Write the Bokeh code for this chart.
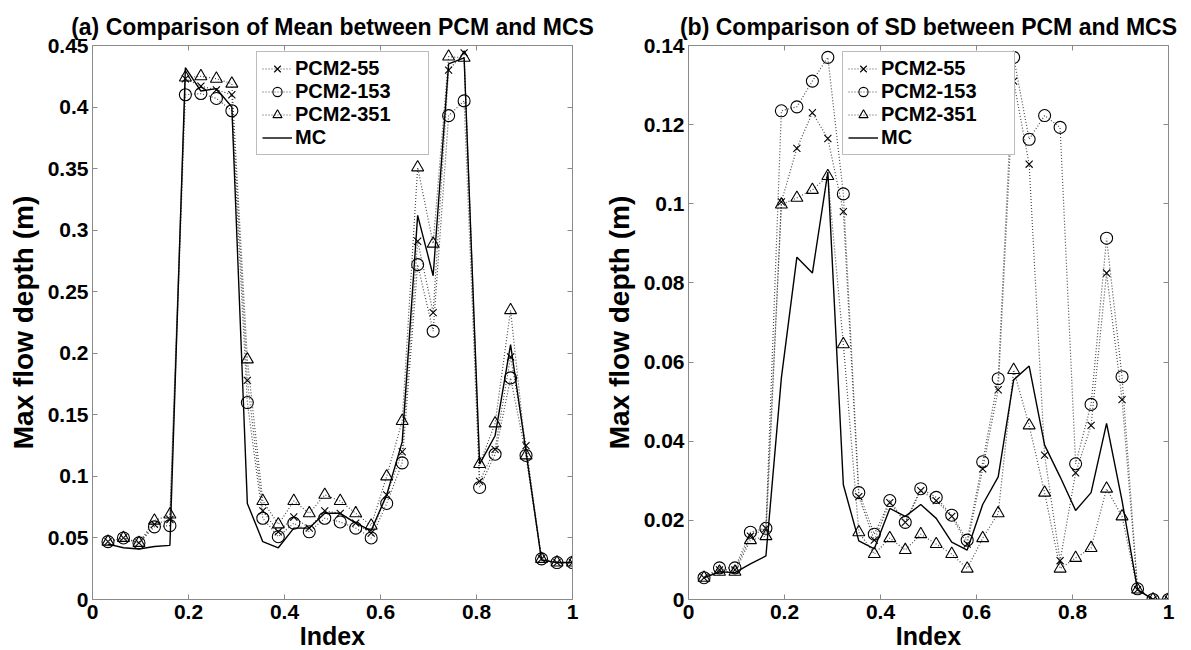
from bokeh.plotting import figure
from bokeh.models import LinearAxis, FixedTicker, Legend, LegendItem, Range1d
from bokeh.layouts import row
from bokeh.embed import file_html
from bokeh.resources import INLINE

# ---------------- data ----------------
index = [0.0323, 0.0645, 0.0968, 0.1290, 0.1613, 0.1935, 0.2258, 0.2581, 0.2903, 0.3226,
         0.3548, 0.3871, 0.4194, 0.4516, 0.4839, 0.5161, 0.5484, 0.5806, 0.6129, 0.6452,
         0.6774, 0.7097, 0.7419, 0.7742, 0.8065, 0.8387, 0.8710, 0.9032, 0.9355, 0.9677, 1.0]

mean_pcm55 = [0.047, 0.050, 0.046, 0.061, 0.065, 0.423, 0.417, 0.414, 0.410, 0.178,
              0.072, 0.055, 0.067, 0.058, 0.072, 0.070, 0.062, 0.054, 0.085, 0.120,
              0.291, 0.233, 0.430, 0.444, 0.096, 0.122, 0.197, 0.125, 0.033, 0.030, 0.030]
mean_pcm153 = [0.047, 0.050, 0.046, 0.059, 0.060, 0.410, 0.411, 0.407, 0.397, 0.160,
               0.066, 0.051, 0.062, 0.055, 0.066, 0.063, 0.058, 0.050, 0.078, 0.111,
               0.272, 0.218, 0.393, 0.405, 0.091, 0.118, 0.180, 0.117, 0.033, 0.030, 0.030]
mean_pcm351 = [0.047, 0.050, 0.046, 0.064, 0.069, 0.424, 0.425, 0.423, 0.419, 0.195,
               0.080, 0.061, 0.080, 0.070, 0.085, 0.080, 0.070, 0.060, 0.100, 0.145,
               0.351, 0.289, 0.441, 0.440, 0.110, 0.143, 0.235, 0.117, 0.033, 0.030, 0.030]
mean_mc = [0.045, 0.042, 0.041, 0.043, 0.044, 0.432, 0.413, 0.415, 0.400, 0.078,
           0.047, 0.042, 0.058, 0.058, 0.070, 0.070, 0.062, 0.056, 0.085, 0.128,
           0.312, 0.263, 0.435, 0.440, 0.110, 0.133, 0.207, 0.120, 0.032, 0.030, 0.030]

sd_pcm55 = [0.0055, 0.0075, 0.0075, 0.016, 0.018, 0.1005, 0.114, 0.123, 0.1165, 0.098,
            0.026, 0.015, 0.0245, 0.0195, 0.0275, 0.025, 0.021, 0.014, 0.033, 0.053,
            0.131, 0.110, 0.0365, 0.0098, 0.032, 0.044, 0.0825, 0.0505, 0.0025, 0.0, 0.0]
sd_pcm153 = [0.0055, 0.008, 0.008, 0.017, 0.018, 0.1235, 0.1245, 0.131, 0.137, 0.1025,
             0.027, 0.0165, 0.025, 0.0195, 0.028, 0.0258, 0.0213, 0.015, 0.0348, 0.0558,
             0.137, 0.1163, 0.1223, 0.1193, 0.0343, 0.0493, 0.0913, 0.0563, 0.0027, 0.0, 0.0]
sd_pcm351 = [0.0055, 0.007, 0.007, 0.015, 0.016, 0.0998, 0.1015, 0.1035, 0.107, 0.0645,
             0.017, 0.0115, 0.0155, 0.0125, 0.0165, 0.014, 0.0115, 0.0078, 0.0155, 0.0218,
             0.058, 0.044, 0.027, 0.0078, 0.0105, 0.013, 0.028, 0.021, 0.0025, 0.0, 0.0]
sd_mc = [0.0055, 0.007, 0.0068, 0.009, 0.011, 0.056, 0.0865, 0.0825, 0.108, 0.029,
         0.0148, 0.0128, 0.023, 0.021, 0.024, 0.0205, 0.0145, 0.0125, 0.024, 0.031,
         0.0555, 0.059, 0.039, 0.031, 0.0225, 0.027, 0.0445, 0.025, 0.0025, 0.0, 0.0]

series_names = ["PCM2-55", "PCM2-153", "PCM2-351", "MC"]

x_ticks = [0, 0.2, 0.4, 0.6, 0.8, 1.0]
x_tick_labels = ["0", "0.2", "0.4", "0.6", "0.8", "1"]
mean_ticks = [0, 0.05, 0.1, 0.15, 0.2, 0.25, 0.3, 0.35, 0.4, 0.45]
mean_tick_labels = ["0", "0.05", "0.1", "0.15", "0.2", "0.25", "0.3", "0.35", "0.4", "0.45"]
sd_ticks = [0, 0.02, 0.04, 0.06, 0.08, 0.1, 0.12, 0.14]
sd_tick_labels = ["0", "0.02", "0.04", "0.06", "0.08", "0.1", "0.12", "0.14"]

title_a = "(a) Comparison of Mean between PCM and MCS"
title_b = "(b) Comparison of SD between PCM and MCS"
y_label = "Max flow depth (m)"
x_label = "Index"

FONT = "Liberation Sans"
AXIS_COLOR = "#8a8a8a"
DOT_COLOR = "#4a4a4a"


def style_axis(ax, ticks, labels, show_labels=True):
    ax.ticker = FixedTicker(ticks=ticks)
    ax.major_tick_in = 5
    ax.major_tick_out = 0
    ax.minor_tick_in = 0
    ax.minor_tick_out = 0
    ax.axis_line_color = AXIS_COLOR
    ax.major_tick_line_color = AXIS_COLOR
    ax.major_label_text_font = FONT
    ax.major_label_text_font_style = "bold"
    ax.major_label_text_color = "black"
    ax.axis_label_text_font = FONT
    ax.axis_label_text_font_style = "bold"
    ax.axis_label_text_color = "black"
    if show_labels:
        ax.major_label_overrides = {t: l for t, l in zip(ticks, labels)}
        ax.major_label_text_font_size = "21px"
    else:
        ax.major_label_text_font_size = "1px"
        ax.major_label_text_color = None
        ax.major_label_standoff = 0


def make_panel(title, ys, yticks, ylabels, ymax, bl, br, legend_x):
    p = figure(frame_width=480, frame_height=554, output_backend="svg",
               toolbar_location=None, x_range=Range1d(0, 1), y_range=Range1d(0, ymax),
               min_border_left=bl, min_border_right=br, min_border_top=45,
               min_border_bottom=48, title=title)
    p.title.text_font = FONT
    p.title.text_font_size = "23px"
    p.title.text_font_style = "bold"
    p.title.text_color = "black"
    p.title.align = "center"
    p.title.standoff = 11
    p.grid.visible = False
    p.outline_line_color = None
    p.background_fill_color = "white"
    p.border_fill_color = "white"

    style_axis(p.xaxis[0], x_ticks, x_tick_labels)
    p.xaxis[0].axis_label = x_label
    p.xaxis[0].axis_label_text_font_size = "25px"
    p.xaxis[0].major_label_standoff = 5
    p.xaxis[0].axis_label_standoff = 0
    style_axis(p.yaxis[0], yticks, ylabels)
    p.yaxis[0].axis_label = y_label
    p.yaxis[0].axis_label_text_font_size = "28px"
    p.yaxis[0].major_label_standoff = 4
    p.yaxis[0].axis_label_standoff = 6

    top = LinearAxis()
    style_axis(top, x_ticks, x_tick_labels, show_labels=False)
    p.add_layout(top, "above")
    right = LinearAxis()
    style_axis(right, yticks, ylabels, show_labels=False)
    p.add_layout(right, "right")

    markers = ["x", "circle", "triangle"]
    sizes = [10, 12, 12]
    items = []
    for name, y, mk, sz in zip(series_names[:3], ys[:3], markers, sizes):
        ln = p.line(index, y, line_color=DOT_COLOR, line_dash="1 2", line_width=1.2)
        sc = p.scatter(index, y, marker=mk, size=sz, line_color="black",
                       fill_color=None, line_width=1.1)
        items.append(LegendItem(label=name, renderers=[ln, sc]))
    mc = p.line(index, ys[3], line_color="black", line_width=1.4)
    items.append(LegendItem(label=series_names[3], renderers=[mc]))

    leg = Legend(items=items, location=(legend_x, 444))
    leg.label_text_font = FONT
    leg.label_text_font_style = "bold"
    leg.label_text_font_size = "20px"
    leg.label_text_color = "black"
    leg.label_height = 23
    leg.glyph_height = 23
    leg.glyph_width = 30
    leg.label_standoff = 3
    leg.label_width = 128
    leg.spacing = 0
    leg.padding = 5
    leg.margin = 0
    leg.border_line_color = "#7a7a7a"
    leg.border_line_width = 1
    leg.background_fill_alpha = 1
    p.add_layout(leg, "center")
    return p


p1 = make_panel(title_a, [mean_pcm55, mean_pcm153, mean_pcm351, mean_mc],
                mean_ticks, mean_tick_labels, 0.45, 92, 26, 164)
p2 = make_panel(title_b, [sd_pcm55, sd_pcm153, sd_pcm351, sd_mc],
                sd_ticks, sd_tick_labels, 0.14, 90, 12, 154)

layout = row(p1, p2)
open("out.html", "w").write(file_html(layout, INLINE))
